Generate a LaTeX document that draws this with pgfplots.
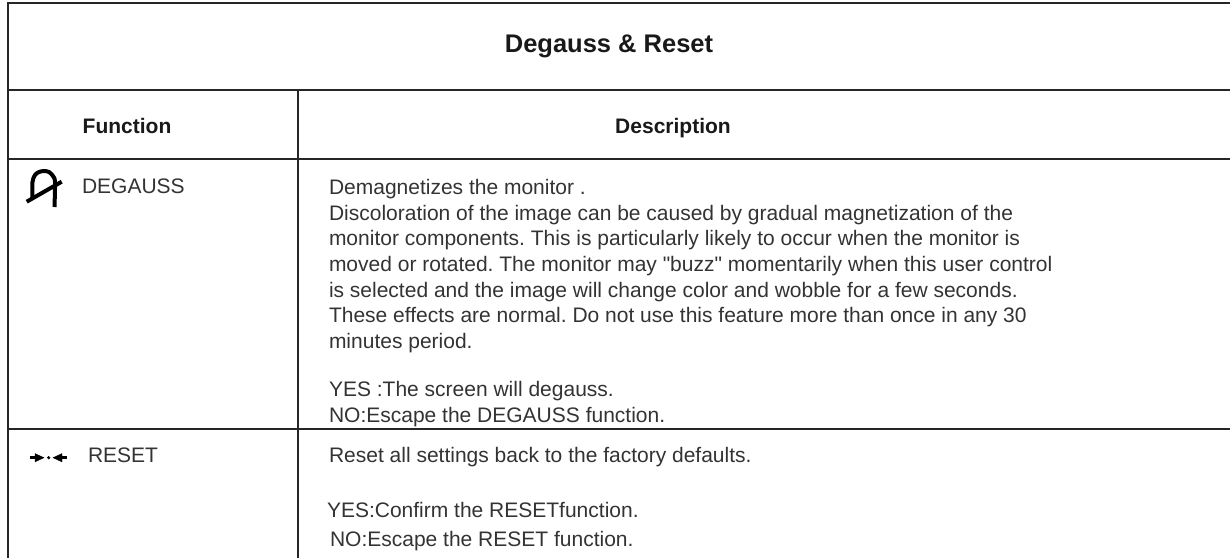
\documentclass[border=0pt]{standalone}
\usepackage{pgfplots}
\pgfplotsset{compat=1.18}
\usepackage{fontspec}
\setmainfont{Liberation Sans}
\newfontface\plainq{Liberation Sans}
\frenchspacing
\tikzset{
  txt/.style={anchor=base west, inner sep=0pt, outer sep=0pt, text=black!80, font=\fontsize{21}{21}\selectfont},
  hd/.style={anchor=base, inner sep=0pt, outer sep=0pt, text=black!90, font=\fontsize{21}{21}\selectfont\bfseries},
  rule/.style={color=black!85, line width=2pt, solid, mark=none},
  ico/.style={color=black, line width=4pt, solid, mark=none, line join=round},
}
\begin{document}
\begin{tikzpicture}
\begin{axis}[
  name=tbl,
  scale only axis, width=1230pt, height=558pt,
  xmin=0, xmax=1230, ymin=0, ymax=558, y dir=reverse,
  hide axis, clip=true,
]
% rules
\addplot[rule] coordinates {(7,3) (1230,3)};
\addplot[rule] coordinates {(7,90) (1230,90)};
\addplot[rule] coordinates {(7,159) (1230,159)};
\addplot[rule] coordinates {(7,429) (1230,429)};
\addplot[rule] coordinates {(8,2) (8,558)};
\addplot[rule] coordinates {(298,90) (298,558)};
% degauss icon
\addplot[ico,smooth,tension=0.5] coordinates {(32.5,199) (32.5,182) (35,175) (39,172) (44,171) (49,172) (53,176) (55,182) (54.5,207)};
\addplot[ico] coordinates {(26.7,201.7) (61.7,181.7)};
% reset icon
\addplot[ico,line width=2.6pt] coordinates {(30,457.7) (40,457.7)};
\addplot[fill=black,draw=black,line width=0.3pt,solid,mark=none] coordinates {(35,453.5) (44,457.7) (35,461.9) (35,453.5)};
\addplot[ico,line width=2.6pt] coordinates {(57,457.7) (67,457.7)};
\addplot[fill=black,draw=black,line width=0.3pt,solid,mark=none] coordinates {(62,453.5) (53,457.7) (62,461.9) (62,453.5)};
\addplot[only marks,mark=*,mark size=1.4pt,color=black,mark options={fill=black}] coordinates {(48.7,457.7)};
% headers
\node[hd, font=\fontsize{25.5}{25.5}\selectfont\bfseries] at (axis cs:609,52) {Degauss \& Reset};
\node[hd] at (axis cs:127,133) {Function};
\node[hd] at (axis cs:673,133) {Description};
% left column
\node[txt] at (axis cs:82,193.3) {DEGAUSS};
\node[txt] at (axis cs:88,462.7) {RESET};
% description
\node[txt] at (axis cs:329,194.5) {Demagnetizes the monitor .};
\node[txt] at (axis cs:329,220) {Discoloration of the image can be caused by gradual magnetization of the};
\node[txt] at (axis cs:329,245.5) {monitor components. This is particularly likely to occur when the monitor is};
\node[txt] at (axis cs:329,271) {moved or rotated. The monitor may {\plainq "}buzz{\plainq "} momentarily when this user control};
\node[txt] at (axis cs:329,297) {is selected and the image will change color and wobble for a few seconds.};
\node[txt] at (axis cs:329,322) {These effects are normal. Do not use this feature more than once in any 30};
\node[txt] at (axis cs:329,348) {minutes period.};
\node[txt] at (axis cs:329,396) {YES :The screen will degauss.};
\node[txt] at (axis cs:329,422) {NO:Escape the DEGAUSS function.};
\node[txt] at (axis cs:329,462) {Reset all settings back to the factory defaults.};
\node[txt] at (axis cs:327,517) {YES:Confirm the RESETfunction.};
\node[txt] at (axis cs:330,546) {NO:Escape the RESET function.};
\end{axis}
\pgfresetboundingbox
\path[use as bounding box] (tbl.south west) rectangle (tbl.north east);
\end{tikzpicture}
\end{document}
